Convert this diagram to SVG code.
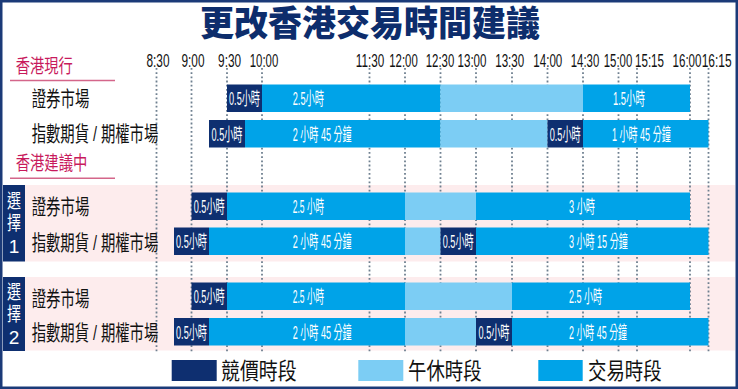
<svg xmlns="http://www.w3.org/2000/svg" width="738" height="389" viewBox="0 0 738 389">
<style>
.f{font-family:"Liberation Sans","Noto Sans CJK TC",sans-serif}
.title{font-family:"Noto Sans CJK TC",sans-serif;font-weight:900;font-size:35px;fill:#0d2d6c}
.sec{font-family:"Noto Sans CJK TC",sans-serif;font-size:19px;fill:#c81a5c}
.row{font-family:"Liberation Sans","Noto Sans CJK TC",sans-serif;font-size:21px;fill:#111}
.tm{font-family:"Liberation Sans",sans-serif;font-size:18.5px;fill:#111;text-anchor:middle}
.bl{font-family:"Liberation Sans","Noto Sans CJK TC",sans-serif;font-size:18px;fill:#fff}
.blc{font-family:"Liberation Sans","Noto Sans CJK TC",sans-serif;font-size:18px;fill:#fff;text-anchor:middle}
.opt{font-family:"Liberation Sans","Noto Sans CJK TC",sans-serif;font-size:19px;fill:#fff;text-anchor:middle}
.lg{font-family:"Noto Sans CJK TC",sans-serif;font-size:23px;fill:#111}
.au{fill:#0e2f70}
.tr{fill:#00a3e8}
.lu{fill:#7ccdf4}
.pink{fill:#fdeced}
.grid{stroke:#6f8090;stroke-width:1.8;stroke-dasharray:1.8 2.4;fill:none}
.ul{stroke:#d4668a;stroke-width:1.5}
</style>
<rect x="0" y="0" width="738" height="389" fill="#fff"/>
<g id="backgrounds">
<rect class="pink" x="25" y="185" width="710" height="76.5"/>
<rect class="pink" x="25" y="277" width="710" height="73.5"/>
</g>
<g id="title"><text class="title" x="370" y="36" text-anchor="middle" textLength="340" lengthAdjust="spacingAndGlyphs">更改香港交易時間建議</text></g>
<g id="time-axis">
<text class="tm" x="158" y="66.5" textLength="23" lengthAdjust="spacingAndGlyphs">8:30</text>
<text class="tm" x="193" y="66.5" textLength="23" lengthAdjust="spacingAndGlyphs">9:00</text>
<text class="tm" x="229.6" y="66.5" textLength="23" lengthAdjust="spacingAndGlyphs">9:30</text>
<text class="tm" x="264" y="66.5" textLength="28.5" lengthAdjust="spacingAndGlyphs">10:00</text>
<text class="tm" x="370" y="66.5" textLength="28.5" lengthAdjust="spacingAndGlyphs">11:30</text>
<text class="tm" x="403.5" y="66.5" textLength="28.5" lengthAdjust="spacingAndGlyphs">12:00</text>
<text class="tm" x="440" y="66.5" textLength="28.5" lengthAdjust="spacingAndGlyphs">12:30</text>
<text class="tm" x="472" y="66.5" textLength="29" lengthAdjust="spacingAndGlyphs">13:00</text>
<text class="tm" x="509.7" y="66.5" textLength="29" lengthAdjust="spacingAndGlyphs">13:30</text>
<text class="tm" x="547.8" y="66.5" textLength="29" lengthAdjust="spacingAndGlyphs">14:00</text>
<text class="tm" x="585" y="66.5" textLength="28.5" lengthAdjust="spacingAndGlyphs">14:30</text>
<text class="tm" x="618" y="66.5" textLength="28.5" lengthAdjust="spacingAndGlyphs">15:00</text>
<text class="tm" x="649.5" y="66.5" textLength="29" lengthAdjust="spacingAndGlyphs">15:15</text>
<text class="tm" x="687" y="66.5" textLength="29" lengthAdjust="spacingAndGlyphs">16:00</text>
<text class="tm" x="716.7" y="66.5" textLength="30" lengthAdjust="spacingAndGlyphs">16:15</text>
</g>
<g id="connectors">
<path class="grid" d="M156.5 68V352M191.5 68V352M227 68V352M262 68V352M369.5 68V352M405 68V352M440.5 68V352M476 68V352M512 68V352M547.5 68V352M583 68V352M618.5 68V352M637 68V352M690 68V352M708.5 68V352"/>
</g>
<g id="section-current">
<text class="sec" x="15.7" y="73" textLength="57" lengthAdjust="spacingAndGlyphs">香港現行</text>
<line class="ul" x1="10" y1="80.5" x2="115" y2="80.5"/>
</g>
<g id="section-proposed">
<text class="sec" x="15.7" y="170" textLength="71.6" lengthAdjust="spacingAndGlyphs">香港建議中</text>
<line class="ul" x1="10" y1="178.3" x2="115" y2="178.3"/>
</g>
<g id="current-securities">
<text class="row" x="31.7" y="106" textLength="57.6" lengthAdjust="spacingAndGlyphs">證券市場</text>
<rect class="au" x="227" y="84.5" width="35" height="27.5"/>
<rect class="tr" x="262" y="84.5" width="178.5" height="27.5"/>
<rect class="lu" x="440.5" y="84.5" width="142.5" height="27.5"/>
<rect class="tr" x="583" y="84.5" width="107" height="27.5"/>
<text class="blc" x="244.5" y="105" textLength="31" lengthAdjust="spacingAndGlyphs">0.5小時</text>
<text class="bl" x="292.7" y="105" textLength="31.3" lengthAdjust="spacingAndGlyphs">2.5小時</text>
<text class="bl" x="613" y="105" textLength="32" lengthAdjust="spacingAndGlyphs">1.5小時</text>
</g>
<g id="current-futures">
<text class="row" x="31.7" y="141" textLength="126.6" lengthAdjust="spacingAndGlyphs">指數期貨 / 期權市場</text>
<rect class="au" x="209" y="120" width="36" height="27.5"/>
<rect class="tr" x="245" y="120" width="195.5" height="27.5"/>
<rect class="lu" x="440.5" y="120" width="107" height="27.5"/>
<rect class="au" x="547.5" y="120" width="35.5" height="27.5"/>
<rect class="tr" x="583" y="120" width="125.5" height="27.5"/>
<text class="blc" x="227" y="140.5" textLength="31" lengthAdjust="spacingAndGlyphs">0.5小時</text>
<text class="bl" x="292.7" y="140.5" textLength="59" lengthAdjust="spacingAndGlyphs">2 小時 45 分鐘</text>
<text class="blc" x="565.2" y="140.5" textLength="31" lengthAdjust="spacingAndGlyphs">0.5小時</text>
<text class="bl" x="612" y="140.5" textLength="58.7" lengthAdjust="spacingAndGlyphs">1 小時 45 分鐘</text>
</g>
<g id="option-1-label">
<rect class="au" x="3" y="185" width="22" height="76.5"/>
<text class="opt" x="14" y="207.5" textLength="14" lengthAdjust="spacingAndGlyphs">選</text>
<text class="opt" x="14" y="230" textLength="14" lengthAdjust="spacingAndGlyphs">擇</text>
<text class="opt" x="14" y="252.7">1</text>
</g>
<g id="option-1-securities">
<text class="row" x="31.7" y="214" textLength="57.6" lengthAdjust="spacingAndGlyphs">證券市場</text>
<rect class="au" x="191.5" y="192.5" width="35.5" height="27.5"/>
<rect class="tr" x="227" y="192.5" width="178" height="27.5"/>
<rect class="lu" x="405" y="192.5" width="71" height="27.5"/>
<rect class="tr" x="476" y="192.5" width="214" height="27.5"/>
<text class="blc" x="209.2" y="213" textLength="31" lengthAdjust="spacingAndGlyphs">0.5小時</text>
<text class="bl" x="292.7" y="213" textLength="31.3" lengthAdjust="spacingAndGlyphs">2.5 小時</text>
<text class="bl" x="569" y="213" textLength="26" lengthAdjust="spacingAndGlyphs">3 小時</text>
</g>
<g id="option-1-futures">
<text class="row" x="31.7" y="249.5" textLength="126.6" lengthAdjust="spacingAndGlyphs">指數期貨 / 期權市場</text>
<rect class="au" x="174" y="227.5" width="35" height="27.5"/>
<rect class="tr" x="209" y="227.5" width="196" height="27.5"/>
<rect class="lu" x="405" y="227.5" width="35.5" height="27.5"/>
<rect class="au" x="440.5" y="227.5" width="35.5" height="27.5"/>
<rect class="tr" x="476" y="227.5" width="232.5" height="27.5"/>
<text class="blc" x="191.5" y="248" textLength="31" lengthAdjust="spacingAndGlyphs">0.5小時</text>
<text class="bl" x="292.7" y="248" textLength="59" lengthAdjust="spacingAndGlyphs">2 小時 45 分鐘</text>
<text class="blc" x="458.2" y="248" textLength="31" lengthAdjust="spacingAndGlyphs">0.5小時</text>
<text class="bl" x="569" y="248" textLength="58.7" lengthAdjust="spacingAndGlyphs">3 小時 15 分鐘</text>
</g>
<g id="option-2-label">
<rect class="au" x="3" y="277" width="22" height="74"/>
<text class="opt" x="14" y="299" textLength="14" lengthAdjust="spacingAndGlyphs">選</text>
<text class="opt" x="14" y="321" textLength="14" lengthAdjust="spacingAndGlyphs">擇</text>
<text class="opt" x="14" y="343.5">2</text>
</g>
<g id="option-2-securities">
<text class="row" x="31.7" y="305.5" textLength="57.6" lengthAdjust="spacingAndGlyphs">證券市場</text>
<rect class="au" x="191.5" y="282.5" width="35.5" height="27.5"/>
<rect class="tr" x="227" y="282.5" width="178" height="27.5"/>
<rect class="lu" x="405" y="282.5" width="107" height="27.5"/>
<rect class="tr" x="512" y="282.5" width="178" height="27.5"/>
<text class="blc" x="209.2" y="303" textLength="31" lengthAdjust="spacingAndGlyphs">0.5小時</text>
<text class="bl" x="292.7" y="303" textLength="31.3" lengthAdjust="spacingAndGlyphs">2.5 小時</text>
<text class="bl" x="569" y="303" textLength="33" lengthAdjust="spacingAndGlyphs">2.5 小時</text>
</g>
<g id="option-2-futures">
<text class="row" x="31.7" y="339.5" textLength="126.6" lengthAdjust="spacingAndGlyphs">指數期貨 / 期權市場</text>
<rect class="au" x="174" y="318" width="35" height="27.5"/>
<rect class="tr" x="209" y="318" width="196" height="27.5"/>
<rect class="lu" x="405" y="318" width="71" height="27.5"/>
<rect class="au" x="476" y="318" width="36" height="27.5"/>
<rect class="tr" x="512" y="318" width="196.5" height="27.5"/>
<text class="blc" x="191.5" y="338.5" textLength="31" lengthAdjust="spacingAndGlyphs">0.5小時</text>
<text class="bl" x="292.7" y="338.5" textLength="59" lengthAdjust="spacingAndGlyphs">2 小時 45 分鐘</text>
<text class="blc" x="494" y="338.5" textLength="31" lengthAdjust="spacingAndGlyphs">0.5小時</text>
<text class="bl" x="569" y="338.5" textLength="58" lengthAdjust="spacingAndGlyphs">2 小時 45 分鐘</text>
</g>
<g id="legend">
<rect class="au" x="171.7" y="360" width="45" height="21"/>
<text class="lg" x="221" y="379" textLength="75.7" lengthAdjust="spacingAndGlyphs">競價時段</text>
<rect class="lu" x="358.3" y="360" width="45" height="21"/>
<text class="lg" x="408" y="379" textLength="73.7" lengthAdjust="spacingAndGlyphs">午休時段</text>
<rect class="tr" x="538.3" y="360" width="44.4" height="21"/>
<text class="lg" x="588" y="379" textLength="73.7" lengthAdjust="spacingAndGlyphs">交易時段</text>
</g>
<rect x="1.25" y="1.25" width="735.5" height="386.5" fill="none" stroke="#1b3a78" stroke-width="2.5"/>
</svg>
